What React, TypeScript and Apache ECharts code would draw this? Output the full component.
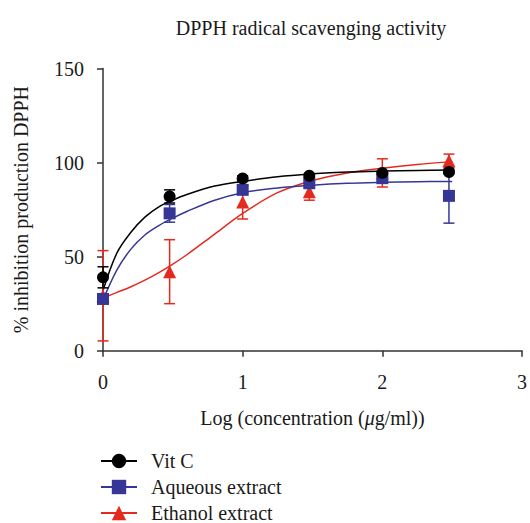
import React, { useEffect, useRef } from "react";
import * as echarts from "echarts";

// Log10 of concentration (µg/ml): 1, 3, 10, 30, 100, 300
const logConc = [0, 0.477, 1, 1.477, 2, 2.477];

const vitC = [39, 82, 91.5, 93, 94.5, 95];
const vitCErr = [5.6, 3.5, 1.5, 1, 1, 1];
const aqueous = [27.5, 73, 85.5, 89, 91.7, 82.3];
const aqueousErr = [2, 4.7, 2, 1.5, 1, 14.5];
const ethanol = [29.2, 42, 79, 84.5, 94.5, 101];
const ethanolErr = [24, 17, 9, 4.5, 7.5, 3.5];

// Fitted curves
const curveX = [0, 0.1, 0.2, 0.3, 0.4, 0.5, 0.6, 0.8, 1.0, 1.25, 1.5, 1.75, 2.0, 2.25, 2.5];
const vitCCurve = [32, 52, 63, 71, 76.5, 80, 83, 87.5, 90, 92.5, 94, 95, 95.5, 95.8, 96];
const aqueousCurve = [27, 43, 54, 61.5, 66.5, 70.5, 74, 80, 84, 86.5, 88, 89, 89.5, 89.8, 90];
const ethanolCurve = [28, 31, 34, 37.5, 41.5, 46, 51, 62, 73, 84, 90.5, 94.5, 97, 99, 100.5];

const seriesNames = ["Vit C", "Aqueous extract", "Ethanol extract"];
const xTicks = [0, 1, 2, 3];
const yTicks = [0, 50, 100, 150];

const BLACK = "#000000";
const BLUE = "#363696";
const RED = "#e42a1f";
const FONT = "Liberation Serif, serif";
const TEXT = "#1a1a1a";

function curveSeries(name: string, ys: number[], color: string, symbol: string, z: number) {
  return {
    type: "line",
    name,
    z,
    smooth: 0.35,
    symbol,
    symbolSize: 12,
    showSymbol: false,
    silent: true,
    lineStyle: { color, width: 1.5 },
    itemStyle: { color },
    data: curveX.map((x, i) => [x, ys[i]]),
  };
}

function errorSeries(name: string, ys: number[], errs: number[], color: string, z: number) {
  return {
    type: "custom",
    name: name + " error",
    z,
    silent: true,
    encode: { x: 0, y: [1, 2] },
    data: logConc.map((x, i) => [x, ys[i] - errs[i], ys[i] + errs[i]]),
    renderItem: (params: any, api: any) => {
      const x = api.value(0);
      const lo = api.coord([x, api.value(1)]);
      const hi = api.coord([x, api.value(2)]);
      const w = 5.5;
      const style = { stroke: color, lineWidth: 1.5 };
      return {
        type: "group",
        children: [
          { type: "line", shape: { x1: lo[0], y1: lo[1], x2: hi[0], y2: hi[1] }, style },
          { type: "line", shape: { x1: lo[0] - w, y1: lo[1], x2: lo[0] + w, y2: lo[1] }, style },
          { type: "line", shape: { x1: hi[0] - w, y1: hi[1], x2: hi[0] + w, y2: hi[1] }, style },
        ],
      };
    },
  };
}

function pointSeries(name: string, ys: number[], color: string, symbol: string, size: number, z: number) {
  return {
    type: "scatter",
    name: name + " mean",
    z,
    silent: true,
    symbol,
    symbolSize: size,
    itemStyle: { color, opacity: 1 },
    data: logConc.map((x, i) => [x, ys[i]]),
  };
}

export default function App() {
  const ref = useRef<HTMLDivElement>(null);

  useEffect(() => {
    if (!ref.current) return;
    const chart = echarts.init(ref.current, null, { renderer: "svg" });
    const axisLine = { show: true, lineStyle: { color: "#333", width: 1.5 } };
    chart.setOption({
      animation: false,
      backgroundColor: "#ffffff",
      textStyle: { fontFamily: FONT, color: TEXT },
      title: {
        text: "DPPH radical scavenging activity",
        left: 306,
        top: 13,
        textAlign: "center",
        textStyle: { fontFamily: FONT, fontSize: 20, fontWeight: "normal", color: TEXT },
      },
      legend: {
        orient: "vertical",
        left: 100,
        top: 451,
        height: 100,
        padding: 0,
        itemWidth: 36,
        itemHeight: 18,
        itemGap: 6,
        selectedMode: false,
        data: seriesNames,
        lineStyle: { width: 2 },
        textStyle: { fontFamily: FONT, fontSize: 20, lineHeight: 20, color: TEXT, padding: [0, 0, 0, 9] },
      },
      grid: { left: 103, right: 6, top: 68.5, bottom: 172.3, containLabel: false },
      xAxis: {
        type: "value",
        min: xTicks[0],
        max: xTicks[xTicks.length - 1],
        interval: 1,
        name: "Log (concentration ({i|μ}g/ml))",
        nameLocation: "middle",
        nameGap: 57,
        nameTextStyle: {
          fontFamily: FONT,
          fontSize: 20,
          color: TEXT,
          rich: { i: { fontFamily: FONT, fontSize: 20, fontStyle: "italic", color: TEXT } },
        },
        axisLine: { ...axisLine, onZero: false },
        axisTick: { show: true, length: 6, lineStyle: { color: "#333", width: 1.5 } },
        axisLabel: { fontFamily: FONT, fontSize: 20, color: TEXT, margin: 21 },
        splitLine: { show: false },
      },
      yAxis: {
        type: "value",
        min: yTicks[0],
        max: yTicks[yTicks.length - 1],
        interval: 50,
        name: "% inhibition production DPPH",
        nameLocation: "middle",
        nameGap: 72,
        nameTextStyle: { fontFamily: FONT, fontSize: 20, color: TEXT },
        axisLine: { ...axisLine, onZero: false },
        axisTick: { show: true, length: 6, lineStyle: { color: "#333", width: 1.5 } },
        axisLabel: { fontFamily: FONT, fontSize: 20, color: TEXT, margin: 19 },
        splitLine: { show: false },
      },
      series: [
        curveSeries(seriesNames[0], vitCCurve, BLACK, "circle", 4),
        curveSeries(seriesNames[1], aqueousCurve, BLUE, "rect", 3),
        curveSeries(seriesNames[2], ethanolCurve, RED, "triangle", 2),
        errorSeries(seriesNames[2], ethanol, ethanolErr, RED, 5),
        errorSeries(seriesNames[1], aqueous, aqueousErr, BLUE, 6),
        errorSeries(seriesNames[0], vitC, vitCErr, BLACK, 7),
        pointSeries(seriesNames[2], ethanol, RED, "triangle", 13, 8),
        pointSeries(seriesNames[1], aqueous, BLUE, "rect", 12, 9),
        pointSeries(seriesNames[0], vitC, BLACK, "circle", 12, 10),
      ],
    });
    return () => chart.dispose();
  }, []);

  return (
    <div
      ref={ref}
      style={{ position: "fixed", left: 0, top: 0, width: 530, height: 523, background: "#fff" }}
    />
  );
}
